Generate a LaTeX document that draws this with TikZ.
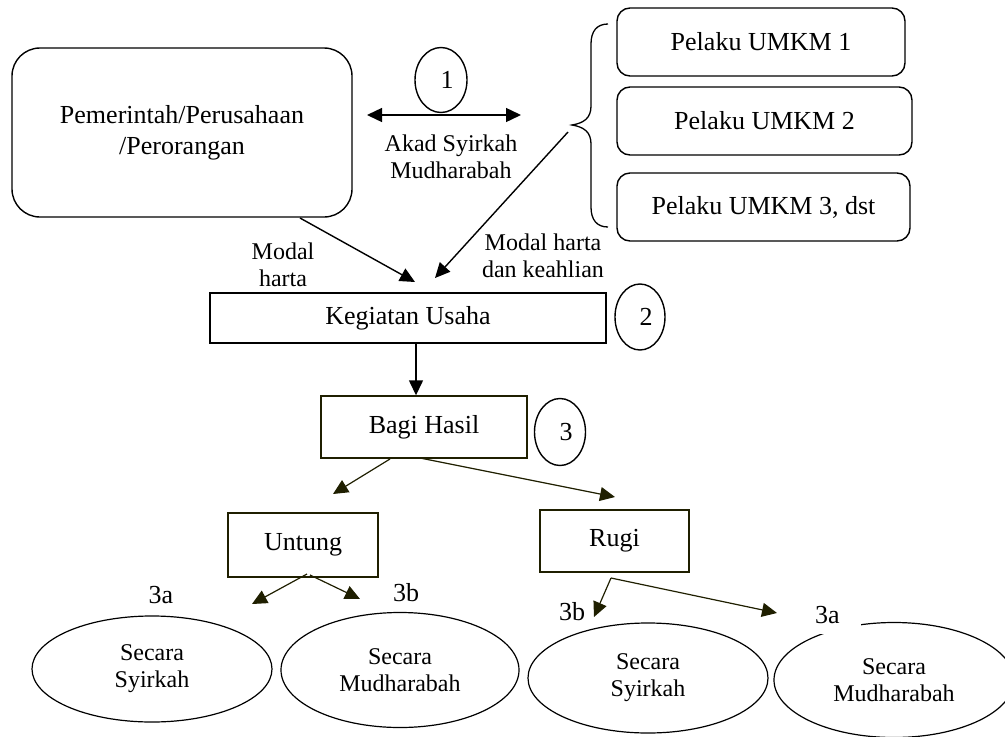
\documentclass[tikz,border=0pt]{standalone}
\usepackage{fontspec}
\setmainfont{Liberation Serif}
\usetikzlibrary{arrows.meta,shapes.geometric}
\definecolor{olv}{rgb}{0.12,0.12,0.0}
\newcommand\fbig{\fontsize{26}{31}\selectfont}
\newcommand\fsml{\fontsize{24}{27}\selectfont}
\begin{document}
\begin{tikzpicture}[x=1pt,y=-1pt,
  line width=1.4pt,
  bigbox/.style={draw,rounded corners=28pt,minimum width=340pt,minimum height=169pt,align=center,font=\fbig,inner sep=0pt},
  pbox/.style={draw,rounded corners=13pt,minimum height=68pt,font=\fbig,inner sep=0pt},
  rbox/.style={draw,rectangle,font=\fbig,inner sep=0pt},
  circ/.style={draw,ellipse,font=\fbig,inner sep=0pt},
  oval/.style={draw,ellipse,font=\fsml,align=center,inner sep=0pt,line width=1.2pt},
  lbl/.style={font=\fsml,align=center,inner sep=0pt},
  numlbl/.style={font=\fbig,inner sep=0pt},
  arr/.style={-{Triangle[length=15pt,width=14pt]}},
  arrb/.style={{Triangle[length=15pt,width=14pt]}-{Triangle[length=15pt,width=14pt]}},
  arro/.style={draw=olv,-{Triangle[length=15pt,width=14pt]},line width=1.2pt}]
\useasboundingbox (0,0) rectangle (1005,737);

% top nodes
\node[bigbox] (big) at (182,132.5) {Pemerintah/Perusahaan\\/Perorangan};
\node[circ,minimum width=52pt,minimum height=65pt] (c1) at (441,80) {\hspace*{12pt}1};
\coordinate (la) at (367,115);
\coordinate (ra) at (521,115);
\draw[arrb] (la) -- (ra);
\node[lbl] (akad) at (451,156.5) {Akad Syirkah\\Mudharabah};

% brace
\draw[line width=1.3pt] (608,24) .. controls (597,24) and (591,31) .. (591,44) -- (591,106)
  .. controls (591,118) and (584,123) .. (572,125)
  .. controls (584,127) and (591,132) .. (591,144) -- (591,207)
  .. controls (591,220) and (597,227) .. (608,227);

\node[pbox,minimum width=288pt] (p1) at (761,42) {Pelaku UMKM 1};
\node[pbox,minimum width=295pt] (p2) at (764.5,121) {Pelaku UMKM 2};
\node[pbox,minimum width=293pt] (p3) at (763.5,207) {Pelaku UMKM 3, dst};

% arrows into Kegiatan
\coordinate (s1) at (300,218);
\coordinate (t1) at (415,282);
\coordinate (s2) at (568,132);
\coordinate (t2) at (435,278);
\draw[arr] (s1) -- (t1);
\draw[arr] (s2) -- (t2);
\node[lbl] (mh1) at (283,264.5) {Modal\\harta};
\node[lbl] (mh2) at (543,256) {Modal harta\\dan keahlian};

\node[rbox,minimum width=396pt,minimum height=50pt] (keg) at (408,318) {Kegiatan Usaha};
\node[circ,minimum width=50pt,minimum height=66pt] (c2) at (640,317) {\hspace*{12pt}2};

\coordinate (ax) at (416,0);
\node[rbox,minimum width=206pt,minimum height=62pt,draw=olv] (bagi) at (424,427) {\raisebox{6pt}{Bagi Hasil}};
\draw[arr] (keg.south -| ax) -- (bagi.north -| ax);
\node[circ,minimum width=51pt,minimum height=67pt] (c3) at (560,432) {\hspace*{12pt}3};

% Untung / Rugi
\node[rbox,minimum width=150pt,minimum height=64pt,draw=olv] (untung) at (303,545) {\raisebox{5pt}{Untung}};
\node[rbox,minimum width=149pt,minimum height=62pt,draw=olv] (rugi) at (614.5,541) {\raisebox{4pt}{Rugi}};
\coordinate (b1) at (390,459);
\coordinate (b2) at (420,458);
\coordinate (tu) at (333,494);
\coordinate (tr) at (615,497);
\draw[arro] (b1) -- (tu);
\draw[arro] (b2) -- (tr);

\coordinate (u1) at (307,574);
\coordinate (u2) at (310,575);
\coordinate (tu1) at (252,604);
\coordinate (tu2) at (360,599);
\draw[arro] (u1) -- (tu1);
\draw[arro] (u2) -- (tu2);

\coordinate (r1) at (611,578);
\coordinate (tr1) at (594,617);
\coordinate (tr2) at (777,613);
\draw[arro] (r1) -- (tr1);
\draw[arro] (r1) -- (tr2);

% ellipses
\node[oval,minimum width=240pt,minimum height=106pt] (e1) at (152,669) {Secara\\Syirkah};
\node[oval,minimum width=238pt,minimum height=115pt] (e2) at (400,670) {Secara\\Mudharabah};
\node[oval,minimum width=240pt,minimum height=110pt] (e3) at (648,678) {Secara\\Syirkah};
\node[oval,minimum width=240pt,minimum height=115pt] (e4) at (894,680) {Secara\\Mudharabah};

\node[numlbl] (l3a1) at (161,595) {3a};
\node[numlbl] (l3b1) at (406,593) {3b};
\node[numlbl] (l3b2) at (572,612) {3b};
\node[numlbl,fill=white,minimum height=34pt,text width=46pt,align=left] (l3a2) at (838,617) {\raisebox{5pt}{3a}};
\end{tikzpicture}
\end{document}
